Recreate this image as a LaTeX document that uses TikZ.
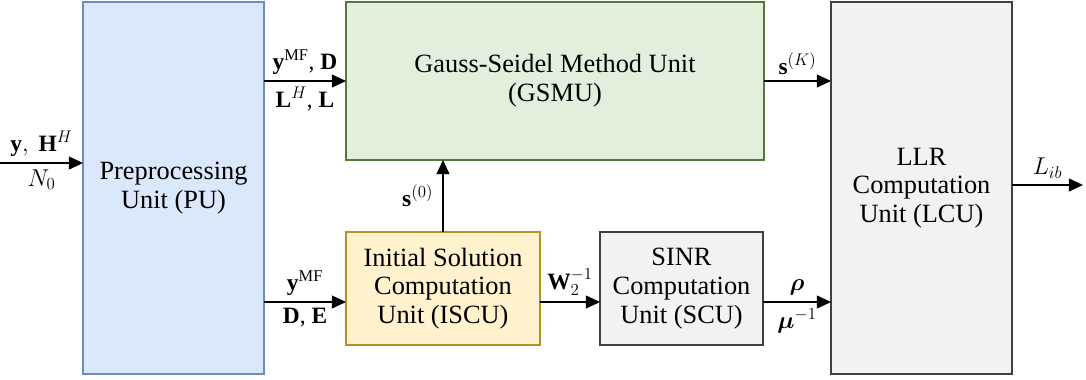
\documentclass[tikz,border=0pt]{standalone}
\usepackage{amsmath,amssymb}
\usepackage{fontspec}
\setmainfont{Liberation Serif}
\usepackage{tikz}
\usetikzlibrary{arrows.meta}
\usetikzlibrary{positioning}
\definecolor{pufill}{RGB}{218,232,252}
\definecolor{puline}{RGB}{108,142,191}
\definecolor{gsfill}{RGB}{226,239,218}
\definecolor{gsline}{RGB}{84,120,58}
\definecolor{isfill}{RGB}{255,242,204}
\definecolor{isline}{RGB}{180,145,40}
\definecolor{grfill}{RGB}{242,242,242}
\definecolor{grline}{RGB}{64,64,64}
\tikzset{unitbox/.style={rectangle, draw, line width=0.9pt, align=center, inner sep=0pt, outer sep=0pt,
  font=\fontsize{22.5}{24.5}\selectfont}}
\tikzset{lbl/.style={font=\fontsize{20}{24}\selectfont, inner sep=5pt}}
\tikzset{arrow/.style={line width=1pt, -{Triangle[length=12pt,width=11pt]}}}

\begin{document}
\begin{tikzpicture}[x=0.03cm, y=-0.03cm]
  \useasboundingbox (0,0) rectangle (1086,379);
  \node (pu) [unitbox, fill=pufill, draw=puline, minimum width=5.43cm, minimum height=11.16cm] at (173.5,188) {Preprocessing\\Unit (PU)};
  \node (gsmu) [unitbox, fill=gsfill, draw=gsline, minimum width=12.54cm, minimum height=4.74cm] at (555,81) {Gauss-Seidel Method Unit\\(GSMU)};
  \node (iscu) [unitbox, fill=isfill, draw=isline, minimum width=5.82cm, minimum height=3.39cm] at (443,288.5) {Initial Solution\\Computation\\Unit (ISCU)};
  \node (scu) [unitbox, fill=grfill, draw=grline, right=1.8cm of iscu, minimum width=4.89cm, minimum height=3.39cm] {SINR\\Computation\\Unit (SCU)};
  \node (lcu) [unitbox, fill=grfill, draw=grline, minimum width=5.43cm, minimum height=11.16cm] at (921.5,188) {LLR\\Computation\\Unit (LCU)};
  \coordinate (in) at (0,163);
  \coordinate (out) at (1083,185);
  \coordinate (lane) at (0,302);
  % input and output
  \draw [arrow] (in) -- node[lbl, above]{$\mathbf{y},\ \mathbf{H}^{H}$} node[lbl, below]{$N_0$} (pu.west |- in);
  \draw [arrow] (lcu.east |- out) -- node[lbl, above]{$L_{ib}$} (out);
  % upper path
  \draw [arrow] (pu.east |- gsmu.west) -- node[lbl, above]{$\mathbf{y}^{\mathrm{MF}}$, $\mathbf{D}$} node[lbl, below]{$\mathbf{L}^{H}$, $\mathbf{L}$} (gsmu.west);
  \draw [arrow] (gsmu.east) -- node[lbl, above]{$\mathbf{s}^{(K)}$} (lcu.west |- gsmu.east);
  % lower path
  \draw [arrow] (pu.east |- lane) -- node[lbl, above]{$\mathbf{y}^{\mathrm{MF}}$} node[lbl, below]{$\mathbf{D}$, $\mathbf{E}$} (iscu.west |- lane);
  \draw [arrow] (iscu.north) -- node[lbl, left, inner sep=8pt]{$\mathbf{s}^{(0)}$} (gsmu.south -| iscu.north);
  \draw [arrow] (iscu.east |- lane) -- node[lbl, above]{$\mathbf{W}_2^{-1}$} (scu.west |- lane);
  \draw [arrow] (scu.east |- lane) -- node[lbl, above]{$\boldsymbol{\rho}$} node[lbl, below]{$\boldsymbol{\mu}^{-1}$} (lcu.west |- lane);
\end{tikzpicture}
\end{document}
